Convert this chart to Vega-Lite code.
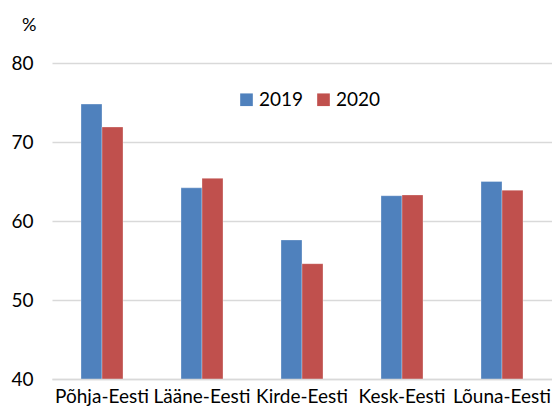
{
  "$schema": "https://vega.github.io/schema/vega-lite/v6.json",
  "width": 500,
  "height": 316,
  "autosize": {"type": "none"},
  "padding": {"left": 52, "top": 63, "right": 0, "bottom": 36},
  "background": "white",
  "data": {"values": [
    {"region": "Põhja-Eesti", "year": "2019", "value": 74.8},
    {"region": "Põhja-Eesti", "year": "2020", "value": 71.9},
    {"region": "Lääne-Eesti", "year": "2019", "value": 64.2},
    {"region": "Lääne-Eesti", "year": "2020", "value": 65.4},
    {"region": "Kirde-Eesti", "year": "2019", "value": 57.6},
    {"region": "Kirde-Eesti", "year": "2020", "value": 54.6},
    {"region": "Kesk-Eesti", "year": "2019", "value": 63.2},
    {"region": "Kesk-Eesti", "year": "2020", "value": 63.3},
    {"region": "Lõuna-Eesti", "year": "2019", "value": 65.0},
    {"region": "Lõuna-Eesti", "year": "2020", "value": 63.9}
  ]},
  "mark": {"type": "bar", "clip": true, "stroke": "white", "strokeWidth": 0.5, "strokeOpacity": 0.6},
  "encoding": {
    "x": {
      "field": "region", "type": "nominal", "sort": null,
      "scale": {"paddingInner": 0.58, "paddingOuter": 0.29},
      "axis": {"title": null, "labelAngle": 0, "labelFont": "Lato", "labelFontSize": 19, "labelColor": "#000", "labelPadding": 8, "ticks": false, "domainColor": "#d9d9d9", "domainWidth": 1.5, "zindex": 1}
    },
    "xOffset": {"field": "year", "type": "nominal"},
    "y": {
      "field": "value", "type": "quantitative",
      "scale": {"domain": [40, 80], "nice": false, "zero": false},
      "axis": {"title": "%", "titleAngle": 0, "titleX": -16, "titleY": -38, "titleAlign": "right", "titleBaseline": "middle", "titleFont": "Lato", "titleFontSize": 18, "titleFontWeight": "normal", "titleColor": "#000",
        "values": [40, 50, 60, 70, 80], "labelFont": "Lato", "labelFontSize": 19, "labelColor": "#000", "labelPadding": 19, "ticks": false, "domain": false, "gridColor": "#d9d9d9", "gridWidth": 1.5}
    },
    "color": {
      "field": "year", "type": "nominal",
      "scale": {"domain": ["2019", "2020"], "range": ["#4F81BD", "#C0504D"]},
      "legend": {"title": null, "orient": "none", "legendX": 185, "legendY": 27, "direction": "horizontal", "symbolType": "square", "symbolSize": 160, "symbolStrokeWidth": 0, "labelFont": "Lato", "labelFontSize": 19, "labelColor": "#000", "columnPadding": 10, "labelOffset": 3}
    }
  },
  "config": {"view": {"stroke": null}}
}
